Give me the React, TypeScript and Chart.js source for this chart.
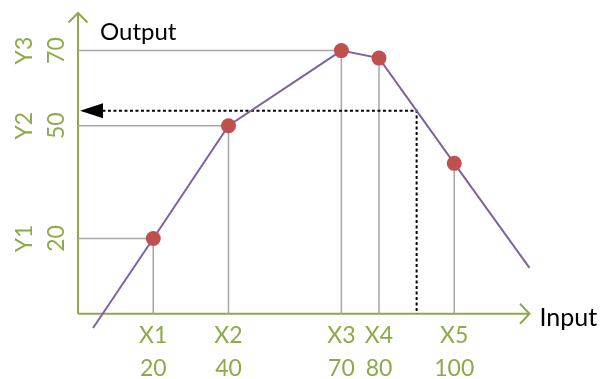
import React, { useEffect, useRef } from 'react';
import { Chart, registerables } from 'chart.js';
Chart.register(...registerables);

// ---- data ----
const xCategories = ['X1', 'X2', 'X3', 'X4', 'X5'];
const xValues = [20, 40, 70, 80, 100];
const pointY = [20, 50, 70, 68, 40];
const yCategories = ['Y1', 'Y2', 'Y3'];
const yValues = [20, 50, 70];
const lineStartX = [4];
const lineStartY = [-3.8];
const lineEndX = [120];
const lineEndY = [12.2];
const queryX = 90;
const queryY = 54;
const xAxisTitle = 'Input';
const yAxisTitle = 'Output';

const GREEN = '#8DAA4B';
const PURPLE = '#7E62A4';
const RED = '#C0504D';
const GRAY = '#A6A6A6';
const FONT = 'Lato, "Open Sans", sans-serif';

const overlay = {
  id: 'overlay',
  beforeDatasetsDraw(chart: any) {
    const ctx = chart.ctx;
    const xs = chart.scales.x;
    const ys = chart.scales.y;
    const x0 = xs.getPixelForValue(0);
    const y0 = ys.getPixelForValue(0);
    const xEnd = xs.getPixelForValue(xs.max);
    const yTop = ys.getPixelForValue(ys.max);
    ctx.save();
    ctx.strokeStyle = GREEN;
    ctx.lineWidth = 2;
    ctx.lineCap = 'butt';
    ctx.beginPath();
    ctx.moveTo(x0, y0);
    ctx.lineTo(x0, yTop);
    ctx.moveTo(x0, y0);
    ctx.lineTo(xEnd, y0);
    ctx.stroke();
    // chevrons
    ctx.beginPath();
    ctx.moveTo(x0 - 9.5, yTop + 9.5);
    ctx.lineTo(x0, yTop);
    ctx.lineTo(x0 + 9.5, yTop + 9.5);
    ctx.moveTo(xEnd - 9.5, y0 - 10);
    ctx.lineTo(xEnd, y0);
    ctx.lineTo(xEnd - 9.5, y0 + 10);
    ctx.stroke();
    ctx.restore();
  },
  afterDatasetsDraw(chart: any) {
    const ctx = chart.ctx;
    const xs = chart.scales.x;
    const ys = chart.scales.y;
    const x0 = xs.getPixelForValue(0);
    const y0 = ys.getPixelForValue(0);
    const xEnd = xs.getPixelForValue(xs.max);
    const yTop = ys.getPixelForValue(ys.max);
    ctx.save();
    // arrowhead of query line
    const qy = ys.getPixelForValue(queryY);
    ctx.fillStyle = '#000';
    ctx.beginPath();
    ctx.moveTo(x0 + 2, qy);
    ctx.lineTo(x0 + 25, qy - 7.5);
    ctx.lineTo(x0 + 25, qy + 7.5);
    ctx.closePath();
    ctx.fill();

    // tick labels
    ctx.fillStyle = GREEN;
    ctx.font = `23px ${FONT}`;
    ctx.textAlign = 'center';
    ctx.textBaseline = 'middle';
    xValues.forEach((v, i) => {
      const px = xs.getPixelForValue(v);
      ctx.fillText(xCategories[i], px, y0 + 22);
      ctx.fillText(String(v), px, y0 + 55);
    });
    yValues.forEach((v, i) => {
      const py = ys.getPixelForValue(v);
      ctx.save();
      ctx.translate(x0 - 53, py);
      ctx.rotate(-Math.PI / 2);
      ctx.fillText(yCategories[i], 0, 0);
      ctx.restore();
      ctx.save();
      ctx.translate(x0 - 21, py);
      ctx.rotate(-Math.PI / 2);
      ctx.fillText(String(v), 0, 0);
      ctx.restore();
    });
    // titles
    ctx.fillStyle = '#000';
    ctx.font = `24px ${FONT}`;
    ctx.textAlign = 'left';
    ctx.textBaseline = 'middle';
    ctx.fillText(yAxisTitle, x0 + 22, yTop + 19);
    ctx.font = `25px ${FONT}`;
    ctx.fillText(xAxisTitle, xEnd + 10, y0 + 4);
    ctx.restore();
  },
};

export default function App() {
  const ref = useRef<HTMLCanvasElement>(null);
  useEffect(() => {
    document.body.style.margin = '0';
    const mainData = [
      { x: lineStartX[0], y: lineStartY[0] },
      ...xValues.map((x, i) => ({ x, y: pointY[i] })),
      { x: lineEndX[0], y: lineEndY[0] },
    ];
    const radii = mainData.map((_, i) => (i === 0 || i === mainData.length - 1 ? 0 : 7.5));
    const guides: any[] = [];
    xValues.forEach((x, i) => {
      guides.push({
        data: [{ x, y: 0 }, { x, y: pointY[i] }],
        showLine: true, borderColor: GRAY, borderWidth: 1.5, pointRadius: 0, order: 3,
      });
    });
    yValues.forEach((y, i) => {
      guides.push({
        data: [{ x: 0, y }, { x: xValues[i], y }],
        showLine: true, borderColor: GRAY, borderWidth: 1.5, pointRadius: 0, order: 3,
      });
    });
    const chart = new Chart(ref.current!, {
      type: 'scatter',
      data: {
        datasets: [
          ...guides,
          {
            data: [{ x: 6.5, y: queryY }, { x: queryX, y: queryY }, { x: queryX, y: 0 }],
            showLine: true, borderColor: '#000', borderWidth: 2, borderDash: [3, 2.5],
            pointRadius: 0, order: 2,
          },
          {
            data: mainData,
            showLine: true, borderColor: PURPLE, borderWidth: 2,
            pointRadius: radii, pointHoverRadius: radii,
            pointBackgroundColor: RED, pointBorderWidth: 0, pointBorderColor: RED,
            clip: false, order: 1,
          },
        ],
      },
      options: {
        animation: false,
        responsive: false,
        layout: { padding: { left: 78, right: 73.5, top: 13, bottom: 65.3 } },
        plugins: { legend: { display: false }, tooltip: { enabled: false } },
        scales: {
          x: { type: 'linear', min: 0, max: 120, display: false },
          y: { type: 'linear', min: 0, max: 80, display: false },
        },
      },
      plugins: [overlay],
    });
    return () => chart.destroy();
  }, []);
  return (
    <div style={{ width: 603, height: 379 }}>
      <canvas ref={ref} width={603} height={379} />
    </div>
  );
}
